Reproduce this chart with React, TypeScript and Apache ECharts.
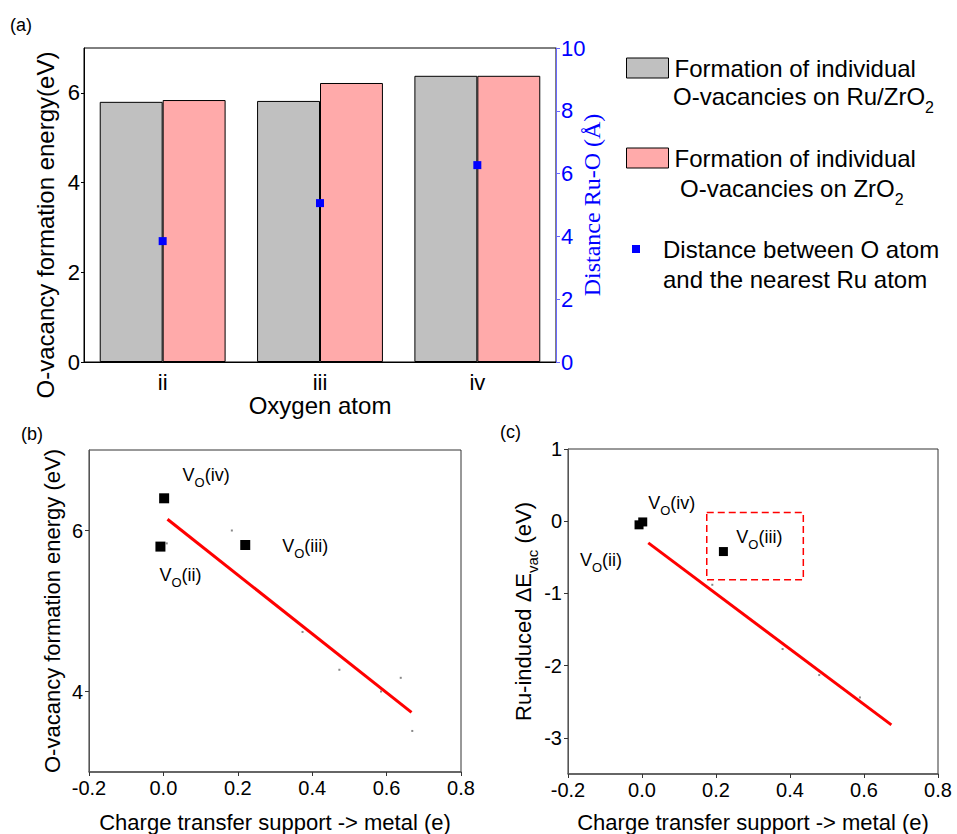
import React, { useEffect, useRef } from "react";
import * as echarts from "echarts";

// ---------- data ----------
const categories = ["ii", "iii", "iv"];
const eRuZrO2 = [5.8, 5.82, 6.38];
const eZrO2 = [5.84, 6.22, 6.38];
const distRuO = [3.85, 5.06, 6.27];

const pointNames = ["ii", "iii", "iv"];
const chargeTransfer = [-0.008, 0.22, 0.002];
const vacEnergyB = [5.8, 5.82, 6.4];
const deltaEvac = [-0.05, -0.42, -0.01];

const fitBX = [0.011, 0.667];
const fitBY = [6.14, 3.74];
const fitCX = [0.017, 0.674];
const fitCY = [-0.3, -2.82];

const strayBX = [0.009, 0.184, 0.374, 0.473, 0.585, 0.638, 0.669];
const strayBY = [5.84, 6.0, 4.74, 4.27, 4.0, 4.17, 3.51];
const strayCX = [0.19, 0.38, 0.479, 0.589];
const strayCY = [-0.88, -1.77, -2.13, -2.44];

const boxCX = [0.175, 0.436];
const boxCY = [0.12, -0.81];

const xTicks = [-0.2, 0, 0.2, 0.4, 0.6, 0.8];
const yTicksB = [4, 6];
const yTicksC = [-3, -2, -1, 0, 1];

// label offsets (pixels) for V_O annotations
const labelOffB = [[20, 28], [60, 1], [42, -23]];
const labelOffC = [[-38, 35], [36, -15], [29, -19]];

const NAME_GRAY = "Formation of individual O-vacancies on Ru/ZrO2";
const NAME_PINK = "Formation of individual O-vacancies on ZrO2";
const NAME_DIST = "Distance between O atom and the nearest Ru atom";

const FONT = '"Liberation Sans", Arial, sans-serif';
const SERIF = '"Liberation Serif", "Times New Roman", serif';

const vRich = {
  a: { fontSize: 18, fontFamily: FONT, color: "#000" },
  s: { fontSize: 13, fontFamily: FONT, color: "#000", verticalAlign: "bottom", padding: [0, 0, -5, 0] },
};
const legRich = {
  a: { fontSize: 24, fontFamily: FONT, color: "#000" },
  s: { fontSize: 16, fontFamily: FONT, color: "#000", verticalAlign: "bottom", padding: [0, 0, -7, 0] },
};

const fmtX = (v: number) => (Math.abs(v) < 1e-9 ? "0.0" : v.toFixed(1));

function vLabel(name: string, off: number[]) {
  return {
    show: true,
    position: "inside",
    offset: off,
    formatter: `{a|V}{s|O}{a|(${name})}`,
    rich: vRich,
  };
}

export default function App() {
  const ref = useRef<HTMLDivElement>(null);
  useEffect(() => {
    if (!ref.current) return;
    const chart = echarts.init(ref.current, undefined, { renderer: "svg" });

    const axisTxt = { fontSize: 20, fontFamily: FONT, color: "#000" };
    const frame = "#333";

    const legendBase = {
      icon: "rect",
      padding: 0,
      selectedMode: false,
      orient: "vertical",
    };

    const option: any = {
      animation: false,
      backgroundColor: "#fff",
      textStyle: { fontFamily: FONT },
      grid: [
        { left: 84, top: 48, width: 472, height: 314, show: true, borderColor: "#000", borderWidth: 1, backgroundColor: "transparent" },
        { left: 89, top: 450, width: 372, height: 323, show: true, borderColor: frame, borderWidth: 1, backgroundColor: "transparent" },
        { left: 568, top: 449, width: 370, height: 328, show: true, borderColor: frame, borderWidth: 1, backgroundColor: "transparent" },
      ],
      xAxis: [
        {
          gridIndex: 0,
          type: "category",
          data: categories,
          axisLine: { lineStyle: { color: "#000", width: 1 } },
          axisTick: { alignWithLabel: true, length: 4, lineStyle: { color: "#000" } },
          axisLabel: { ...axisTxt, fontSize: 22, margin: 9 },
          name: "Oxygen atom",
          nameLocation: "middle",
          nameGap: 30,
          nameTextStyle: { fontSize: 24, fontFamily: FONT, color: "#000" },
          splitLine: { show: false },
        },
        {
          gridIndex: 1,
          type: "value",
          min: -0.2,
          max: 0.8,
          interval: 0.2,
          axisLine: { onZero: false, lineStyle: { color: "#555", width: 1.5 } },
          axisTick: { length: 4, lineStyle: { color: "#333" }, customValues: xTicks },
          axisLabel: { ...axisTxt, margin: 6, formatter: fmtX, customValues: xTicks },
          splitLine: { show: false },
          name: "Charge transfer support -> metal (e)",
          nameLocation: "middle",
          nameGap: 39,
          nameTextStyle: { fontSize: 22, fontFamily: FONT, color: "#000" },
        },
        {
          gridIndex: 2,
          type: "value",
          min: -0.2,
          max: 0.8,
          interval: 0.2,
          axisLine: { onZero: false, lineStyle: { color: "#555", width: 1.5 } },
          axisTick: { length: 4, lineStyle: { color: "#333" }, customValues: xTicks },
          axisLabel: { ...axisTxt, margin: 6, formatter: fmtX, customValues: xTicks },
          splitLine: { show: false },
          name: "Charge transfer support -> metal (e)",
          nameLocation: "middle",
          nameGap: 37,
          nameTextStyle: { fontSize: 22, fontFamily: FONT, color: "#000" },
        },
      ],
      yAxis: [
        {
          gridIndex: 0,
          type: "value",
          min: 0,
          max: 7,
          interval: 2,
          axisLine: { show: true, onZero: false, lineStyle: { color: "#000" } },
          axisTick: { show: true, length: 3, lineStyle: { color: "#000" }, customValues: [0, 2, 4, 6] },
          axisLabel: { ...axisTxt, fontSize: 22, margin: 4, customValues: [0, 2, 4, 6] },
          splitLine: { show: false },
          name: "O-vacancy formation energy(eV)",
          nameLocation: "middle",
          nameRotate: 90,
          nameGap: 27,
          nameTextStyle: { fontSize: 24, fontFamily: FONT, color: "#000", padding: [0, 40, 0, 0] },
        },
        {
          gridIndex: 0,
          type: "value",
          position: "right",
          min: 0,
          max: 10,
          interval: 2,
          axisLine: { show: true, onZero: false, lineStyle: { color: "#6a6aff" } },
          axisTick: { show: true, length: 4, lineStyle: { color: "#6a6aff" } },
          axisLabel: { fontSize: 22, fontFamily: FONT, color: "#0000ff", margin: 5 },
          splitLine: { show: false },
          name: "Distance Ru-O (Å)",
          nameLocation: "middle",
          nameRotate: 90,
          nameGap: 36,
          nameMoveOverlap: false,
          nameTextStyle: { fontSize: 24, fontFamily: SERIF, color: "#0000ff", verticalAlign: "middle" },
        },
        {
          gridIndex: 1,
          type: "value",
          min: 3,
          max: 7,
          axisLine: { show: true, onZero: false, lineStyle: { color: "#555" } },
          axisTick: { show: true, length: 4, lineStyle: { color: "#333" }, customValues: yTicksB },
          axisLabel: { ...axisTxt, margin: 6, customValues: yTicksB },
          splitLine: { show: false },
          name: "O-vacancy formation energy (eV)",
          nameLocation: "middle",
          nameRotate: 90,
          nameGap: 26,
          nameTextStyle: { fontSize: 22, fontFamily: FONT, color: "#000" },
        },
        {
          gridIndex: 2,
          type: "value",
          min: -3.5,
          max: 1,
          axisLine: { show: true, onZero: false, lineStyle: { color: "#555" } },
          axisTick: { show: true, length: 4, lineStyle: { color: "#333" }, customValues: yTicksC },
          axisLabel: { ...axisTxt, margin: 6, customValues: yTicksC },
          splitLine: { show: false },
          name: "{a|Ru-induced ΔE}{s|vac}{a| (eV)}",
          nameLocation: "middle",
          nameRotate: 90,
          nameGap: 33,
          nameTextStyle: {
            rich: {
              a: { fontSize: 22, fontFamily: FONT, color: "#000" },
              s: { fontSize: 15, fontFamily: FONT, color: "#000", verticalAlign: "bottom", padding: [0, 0, -6, 0] },
            },
          },
        },
      ],
      legend: [
        {
          ...legendBase,
          data: [NAME_GRAY],
          left: 626,
          top: 56,
          itemWidth: 42,
          itemHeight: 20,
          itemStyle: { borderColor: "#000", borderWidth: 1 },
          formatter: () => "Formation of individual",
          textStyle: { fontSize: 24, fontFamily: FONT, color: "#000", lineHeight: 20, padding: [0, 0, 0, 1] },
        },
        {
          ...legendBase,
          data: [NAME_PINK],
          left: 626,
          top: 146,
          itemWidth: 42,
          itemHeight: 20,
          itemStyle: { borderColor: "#000", borderWidth: 1 },
          formatter: () => "Formation of individual",
          textStyle: { fontSize: 24, fontFamily: FONT, color: "#000", lineHeight: 20, padding: [0, 0, 0, 1] },
        },
        {
          ...legendBase,
          data: [NAME_DIST],
          left: 632,
          top: 237,
          itemWidth: 8,
          itemHeight: 8,
          itemStyle: { opacity: 1 },
          formatter: () => "Distance between O atom",
          textStyle: { fontSize: 24, fontFamily: FONT, color: "#000", lineHeight: 20, padding: [0, 0, 0, 18] },
        },
      ],
      graphic: [
        { type: "text", x: 10, y: 25, style: { text: "(a)", fontSize: 18, fontFamily: FONT, fill: "#000", verticalAlign: "middle" } },
        { type: "text", x: 21, y: 434, style: { text: "(b)", fontSize: 18, fontFamily: FONT, fill: "#000", verticalAlign: "middle" } },
        { type: "text", x: 500, y: 432, style: { text: "(c)", fontSize: 18, fontFamily: FONT, fill: "#000", verticalAlign: "middle" } },
        { type: "text", x: 673, y: 96, style: { text: "{a|O-vacancies on Ru/ZrO}{s|2}", rich: legRich, verticalAlign: "middle" } },
        { type: "text", x: 680, y: 188, style: { text: "{a|O-vacancies on ZrO}{s|2}", rich: legRich, verticalAlign: "middle" } },
        { type: "text", x: 663, y: 279, style: { text: "and the nearest Ru atom", fontSize: 24, fontFamily: FONT, fill: "#000", verticalAlign: "middle" } },
      ],
      series: [
        {
          name: NAME_GRAY,
          type: "bar",
          xAxisIndex: 0,
          yAxisIndex: 0,
          data: eRuZrO2,
          barGap: "0%",
          barCategoryGap: "20%",
          itemStyle: { color: "#c0c0c0", borderColor: "#000", borderWidth: 1 },
        },
        {
          name: NAME_PINK,
          type: "bar",
          xAxisIndex: 0,
          yAxisIndex: 0,
          data: eZrO2,
          barGap: "0%",
          barCategoryGap: "20%",
          itemStyle: { color: "#ffaaaa", borderColor: "#000", borderWidth: 1 },
        },
        {
          name: NAME_DIST,
          type: "scatter",
          xAxisIndex: 0,
          yAxisIndex: 1,
          data: categories.map((c, i) => [c, distRuO[i]]),
          symbol: "rect",
          symbolSize: 8,
          z: 5,
          itemStyle: { color: "#0000ff", opacity: 1 },
        },
        // panel (b)
        {
          name: "stray-b",
          type: "scatter",
          xAxisIndex: 1,
          yAxisIndex: 2,
          data: strayBX.map((x, i) => [x, strayBY[i]]),
          symbol: "rect",
          symbolSize: 2,
          itemStyle: { color: "#888", opacity: 1 },
          silent: true,
        },
        {
          name: "fit-b",
          type: "line",
          xAxisIndex: 1,
          yAxisIndex: 2,
          data: fitBX.map((x, i) => [x, fitBY[i]]),
          symbol: "none",
          lineStyle: { color: "#ff0000", width: 3 },
          z: 3,
        },
        {
          name: "vo-b",
          type: "scatter",
          xAxisIndex: 1,
          yAxisIndex: 2,
          symbol: "rect",
          symbolSize: 10,
          itemStyle: { color: "#000", opacity: 1 },
          z: 4,
          data: pointNames.map((n, i) => ({
            value: [chargeTransfer[i], vacEnergyB[i]],
            label: vLabel(n, labelOffB[i]),
          })),
        },
        // panel (c)
        {
          name: "stray-c",
          type: "scatter",
          xAxisIndex: 2,
          yAxisIndex: 3,
          data: strayCX.map((x, i) => [x, strayCY[i]]),
          symbol: "rect",
          symbolSize: 2,
          itemStyle: { color: "#888", opacity: 1 },
          silent: true,
        },
        {
          name: "fit-c",
          type: "line",
          xAxisIndex: 2,
          yAxisIndex: 3,
          data: fitCX.map((x, i) => [x, fitCY[i]]),
          symbol: "none",
          lineStyle: { color: "#ff0000", width: 3 },
          z: 3,
        },
        {
          name: "vo-c",
          type: "scatter",
          xAxisIndex: 2,
          yAxisIndex: 3,
          symbol: "rect",
          symbolSize: 9,
          itemStyle: { color: "#000", opacity: 1 },
          z: 4,
          data: pointNames.map((n, i) => ({
            value: [chargeTransfer[i], deltaEvac[i]],
            label: vLabel(n, labelOffC[i]),
          })),
          markArea: {
            silent: true,
            itemStyle: { color: "transparent", borderColor: "#ff0000", borderWidth: 1.5, borderType: [7, 4] },
            data: [[{ coord: [boxCX[0], boxCY[0]] }, { coord: [boxCX[1], boxCY[1]] }]],
          },
        },
      ],
    };

    chart.setOption(option);
    return () => chart.dispose();
  }, []);

  return (
    <div
      ref={ref}
      style={{ position: "absolute", left: 0, top: 0, width: 957, height: 834, background: "#fff" }}
    />
  );
}
